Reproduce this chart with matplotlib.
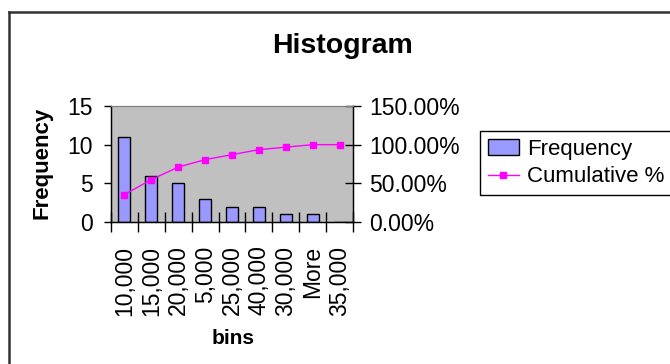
import matplotlib
matplotlib.use("Agg")
import matplotlib.pyplot as plt
from matplotlib.lines import Line2D
from matplotlib.ticker import FixedLocator

plt.rcParams['font.family'] = ['Liberation Sans', 'DejaVu Sans']

bins = ["10,000", "15,000", "20,000", "5,000", "25,000", "40,000", "30,000", "More", "35,000"]
frequency = [11, 6, 5, 3, 2, 2, 1, 1, 0]
cumulative_pct = [35.48, 54.84, 70.97, 80.65, 87.10, 93.55, 96.77, 100.00, 100.00]

W, H = 670, 364
fig = plt.figure(figsize=(W / 100, H / 100), dpi=100)

ax = fig.add_axes([111 / W, 1 - 222 / H, 242 / W, 116 / H])
ax.set_facecolor('#C0C0C0')
x = list(range(len(bins)))
bars = ax.bar(x, frequency, width=0.45, color='#9999FF', edgecolor='black', linewidth=1.0, label='Frequency', zorder=2)
ax.set_xlim(-0.5, len(bins) - 0.5)
ax.set_ylim(0, 15)
ax.set_yticks([0, 5, 10, 15])
ax.tick_params(axis='y', direction='out', length=5, width=1, labelsize=16.5, pad=8)
ax.set_xticks(x)
ax.set_xticklabels(bins, rotation=90, fontsize=16.5)
ax.tick_params(axis='x', which='major', length=0, pad=17)
ax.xaxis.set_minor_locator(FixedLocator([i - 0.5 for i in range(len(bins) + 1)]))
ax.tick_params(axis='x', which='minor', direction='inout', length=14, width=1)
for s in ['left', 'bottom', 'right']:
    ax.spines[s].set_color('black')
    ax.spines[s].set_linewidth(1)
ax.spines['top'].set_color('#808080')

ax2 = ax.twinx()
line, = ax2.plot(x, cumulative_pct, color='#FF00FF', marker='s', markersize=4.5, linewidth=1, label='Cumulative %', zorder=3)
ax2.set_ylim(0, 150)
ax2.set_yticks([0, 50, 100, 150])
ax2.set_yticklabels(['0.00%', '50.00%', '100.00%', '150.00%'])
ax2.tick_params(axis='y', direction='inout', length=11, width=1, labelsize=16.5, pad=6)
ax2.spines['right'].set_color('black')
ax2.spines['top'].set_color('#808080')

fig.text(343 / W, 1 - 46 / H, 'Histogram', ha='center', va='center', fontsize=20.5, fontweight='bold')
fig.text(42 / W, 1 - 163 / H, 'Frequency', ha='center', va='center', rotation=90, fontsize=16, fontweight='bold')
fig.text(233 / W, 1 - 339 / H, 'bins', ha='center', va='center', fontsize=15, fontweight='bold')

leg = fig.legend([bars, line], ['Frequency', 'Cumulative %'], loc='upper left',
                 bbox_to_anchor=(480 / W, 1 - 131 / H), borderaxespad=0, fontsize=16,
                 frameon=True, fancybox=False, edgecolor='black', framealpha=1,
                 handlelength=1.4, handletextpad=0.36, borderpad=0.35, labelspacing=0.3)
leg.get_frame().set_linewidth(1)

fig.add_artist(Line2D([8.5 / W, 8.5 / W], [0, 1 - 11.5 / H], transform=fig.transFigure, color='#333333', linewidth=1.8))
fig.add_artist(Line2D([8.5 / W, 1], [1 - 11.5 / H, 1 - 11.5 / H], transform=fig.transFigure, color='#333333', linewidth=1.8))

fig.savefig('out.png', dpi=100)
